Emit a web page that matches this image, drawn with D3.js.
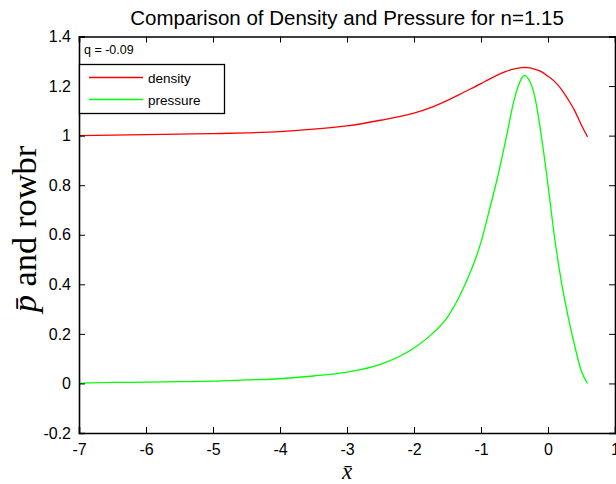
<!DOCTYPE html>
<html>
<head>
<meta charset="utf-8">
<script src="https://cdn.jsdelivr.net/npm/d3@7/dist/d3.min.js"></script>
<style>
  html, body { margin: 0; padding: 0; background: #fff; }
  svg { display: block; }
</style>
</head>
<body>
<svg id="chart" width="616" height="484"></svg>
<script>
// Sample positions along x̄
const xs = [-7, -6.5, -6, -5.5, -5, -4.5, -4, -3.5, -3, -2.5, -2, -1.75, -1.5, -1.25,
            -1, -0.875, -0.75, -0.625, -0.5, -0.4, -0.35, -0.3, -0.2, -0.1, 0,
            0.1, 0.2, 0.3, 0.4, 0.5, 0.59];

// Normalised density
const density = [1.000, 1.002, 1.004, 1.006, 1.008, 1.011, 1.016, 1.026, 1.039, 1.062,
                 1.091, 1.113, 1.142, 1.176, 1.210, 1.228, 1.245, 1.259, 1.269, 1.274,
                 1.275, 1.274, 1.268, 1.258, 1.240, 1.218, 1.187, 1.146, 1.100, 1.042, 0.995];

// Normalised pressure
const pressure = [0.000, 0.004, 0.005, 0.007, 0.009, 0.014, 0.019, 0.030, 0.046, 0.077,
                  0.143, 0.195, 0.268, 0.392, 0.570, 0.700, 0.835, 0.990, 1.150, 1.228,
                  1.243, 1.232, 1.160, 1.000, 0.800, 0.585, 0.410, 0.270, 0.150, 0.048, 0.000];

const xTicks = [-7, -6, -5, -4, -3, -2, -1, 0, 1];
const yTicks = [-0.2, 0, 0.2, 0.4, 0.6, 0.8, 1, 1.2, 1.4];

const seriesNames = ["density", "pressure"];
const seriesColors = ["#ff0000", "#00ff00"];

const svg = d3.select("#chart");
const plotL = 79, plotR = 615, plotT = 36.5, plotB = 433;

const x = d3.scaleLinear().domain([-7, 1]).range([plotL, plotR]);
const y = d3.scaleLinear().domain([-0.2, 1.4]).range([plotB, plotT]);

const tickFont = "Liberation Sans, Arial, sans-serif";
const plainNum = d => String(+(+d).toFixed(1)); // ASCII hyphen for negatives

// Curves
const line = d3.line()
  .x(d => x(d[0]))
  .y(d => y(d[1]))
  .curve(d3.curveMonotoneX);

[density, pressure].forEach((vals, i) => {
  svg.append("path")
    .datum(xs.map((xv, j) => [xv, vals[j]]))
    .attr("fill", "none")
    .attr("stroke", seriesColors[i])
    .attr("stroke-width", 1.3)
    .attr("d", line);
});

// Axes (ticks pointing inward, mirrored on the top and right)
const tl = 6;
const gx = svg.append("g").attr("transform", `translate(0,${plotB})`)
  .call(d3.axisBottom(x).tickValues(xTicks).tickSize(-tl).tickPadding(11).tickFormat(plainNum));
const gxt = svg.append("g").attr("transform", `translate(0,${plotT})`)
  .call(d3.axisTop(x).tickValues(xTicks).tickSize(-tl).tickFormat(""));
const gy = svg.append("g").attr("transform", `translate(${plotL},0)`)
  .call(d3.axisLeft(y).tickValues(yTicks).tickSize(-tl).tickPadding(8).tickFormat(plainNum));
const gyr = svg.append("g").attr("transform", `translate(${plotR},0)`)
  .call(d3.axisRight(y).tickValues(yTicks).tickSize(-tl).tickFormat(""));

[gx, gxt, gy, gyr].forEach(g => {
  g.select(".domain").attr("stroke", "#000").attr("stroke-width", 1.6);
  g.selectAll(".tick line").attr("stroke", "#000").attr("stroke-width", 1);
  g.selectAll(".tick text").attr("fill", "#000")
    .style("font-family", tickFont).style("font-size", "16px");
});

// Title
svg.append("text")
  .attr("x", 347).attr("y", 25)
  .attr("text-anchor", "middle")
  .style("font-family", tickFont).style("font-size", "20.5px")
  .text("Comparison of Density and Pressure for n=1.15");

// Axis labels
svg.append("text")
  .attr("x", 347).attr("y", 479)
  .attr("text-anchor", "middle")
  .style("font-family", "Liberation Serif, Times New Roman, serif")
  .style("font-style", "italic")
  .style("font-size", "23px")
  .text("x\u0304");

const yl = svg.append("text")
  .attr("transform", "translate(36,229) rotate(-90)")
  .attr("text-anchor", "middle")
  .style("font-family", "Liberation Serif, Times New Roman, serif")
  .style("font-size", "34.5px");
yl.append("tspan").style("font-style", "italic").text("p\u0304");
yl.append("tspan").text(" and rowbr");

// Annotation
svg.append("text")
  .attr("x", 84).attr("y", 54)
  .style("font-family", tickFont).style("font-size", "12.5px")
  .text("q = -0.09");

// Legend
const lg = svg.append("g");
lg.append("rect")
  .attr("x", 79.5).attr("y", 64.5).attr("width", 145).attr("height", 49)
  .attr("fill", "#fff").attr("stroke", "#000").attr("stroke-width", 1.3);
seriesNames.forEach((name, i) => {
  const yy = 77.5 + i * 22;
  lg.append("line")
    .attr("x1", 89).attr("x2", 143).attr("y1", yy).attr("y2", yy)
    .attr("stroke", seriesColors[i]).attr("stroke-width", 1.3);
  lg.append("text")
    .attr("x", 148).attr("y", yy + 5)
    .style("font-family", tickFont).style("font-size", "13.5px")
    .text(name);
});
</script>
</body>
</html>
